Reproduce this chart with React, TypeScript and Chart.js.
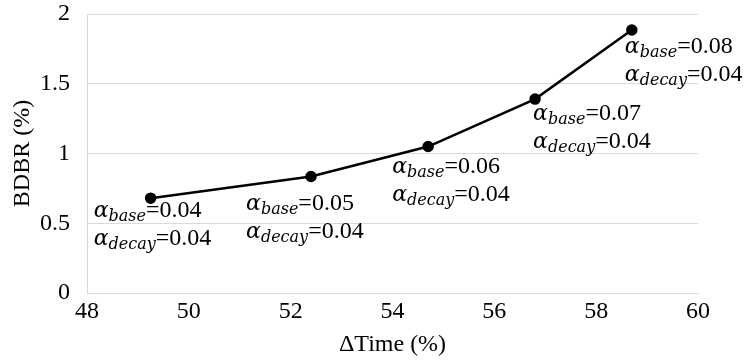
import React, { useEffect, useRef } from "react";
import { Chart, registerables } from "chart.js";

Chart.register(...registerables);

const deltaTime = [49.25, 52.4, 54.7, 56.8, 58.7];
const bdbr = [0.68, 0.835, 1.05, 1.39, 1.885];
const alphaBase = ["0.04", "0.05", "0.06", "0.07", "0.08"];
const alphaDecay = ["0.04", "0.04", "0.04", "0.04", "0.04"];
const xTitle = "ΔTime (%)";
const yTitle = "BDBR (%)";

const SERIF = "'Liberation Serif'";
const MATH = "'DejaVu Serif'";

// label placement relative to each point (dx to text left, dy to first baseline)
const labelOffsets = [
  [-57, 19],
  [-65, 33],
  [-36, 26],
  [-2, 21],
  [-7, 23],
];

function drawAlphaLine(ctx: CanvasRenderingContext2D, x: number, y: number, sub: string, val: string) {
  ctx.fillStyle = "#000";
  ctx.textBaseline = "alphabetic";
  ctx.textAlign = "left";
  ctx.font = `italic 22px ${MATH}`;
  ctx.fillText("α", x, y);
  let cx = x + ctx.measureText("α").width;
  ctx.font = `italic 16px ${MATH}`;
  ctx.fillText(sub, cx, y + 4);
  cx += ctx.measureText(sub).width;
  ctx.font = `24px ${SERIF}`;
  ctx.fillText("=" + val, cx, y);
}

const labelPlugin = {
  id: "alphaLabels",
  afterDatasetsDraw(chart: any) {
    const ctx = chart.ctx as CanvasRenderingContext2D;
    const meta = chart.getDatasetMeta(0);
    ctx.save();
    meta.data.forEach((pt: any, i: number) => {
      const [dx, dy] = labelOffsets[i];
      const x = pt.x + dx;
      const y = pt.y + dy;
      drawAlphaLine(ctx, x, y, "base", alphaBase[i]);
      drawAlphaLine(ctx, x, y + 28, "decay", alphaDecay[i]);
    });
    ctx.restore();
  },
};

export default function App() {
  const ref = useRef<HTMLCanvasElement>(null);
  useEffect(() => {
    if (!ref.current) return;
    const chart = new Chart(ref.current, {
      type: "scatter",
      data: {
        datasets: [
          {
            data: deltaTime.map((x, i) => ({ x, y: bdbr[i] })),
            showLine: true,
            borderColor: "#000",
            backgroundColor: "#000",
            borderWidth: 2.5,
            pointRadius: 4.5,
            pointHoverRadius: 4.5,
          },
        ],
      },
      options: {
        animation: false,
        responsive: false,
        maintainAspectRatio: false,
        events: [],
        layout: { padding: { top: 14, right: 50, left: 0, bottom: 0 } },
        plugins: { legend: { display: false }, tooltip: { enabled: false } },
        scales: {
          x: {
            type: "linear",
            min: 48,
            max: 60,
            ticks: { stepSize: 2, color: "#000", font: { family: SERIF, size: 24 }, padding: 4, maxRotation: 0 },
            grid: { display: false, drawTicks: false },
            border: { display: true, color: "#d9d9d9", width: 1 },
            title: { display: true, text: xTitle, color: "#000", font: { family: SERIF, size: 24 }, padding: { top: 0, bottom: 4 } },
            afterFit: (s: any) => {
              s.height = 70;
              s.paddingLeft = 0;
              s.paddingRight = 0;
            },
          },
          y: {
            min: 0,
            max: 2,
            ticks: {
              stepSize: 0.5,
              color: "#000",
              font: { family: SERIF, size: 24 },
              padding: 17,
              callback: (v: any) => String(Number(v)),
            },
            grid: { color: "#d9d9d9", lineWidth: 1, drawTicks: false },
            border: { display: true, color: "#d9d9d9", width: 1 },
            title: { display: true, text: yTitle, color: "#000", font: { family: SERIF, size: 24 }, padding: { top: 8, bottom: 0 } },
            afterFit: (s: any) => {
              s.width = 87;
              s.paddingTop = 0;
              s.paddingBottom = 0;
            },
          },
        },
      },
      plugins: [labelPlugin],
    });
    return () => chart.destroy();
  }, []);
  return (
    <div style={{ position: "absolute", left: 0, top: 0, width: 748, height: 363, background: "#fff" }}>
      <canvas ref={ref} width={748} height={363} style={{ display: "block" }} />
    </div>
  );
}
